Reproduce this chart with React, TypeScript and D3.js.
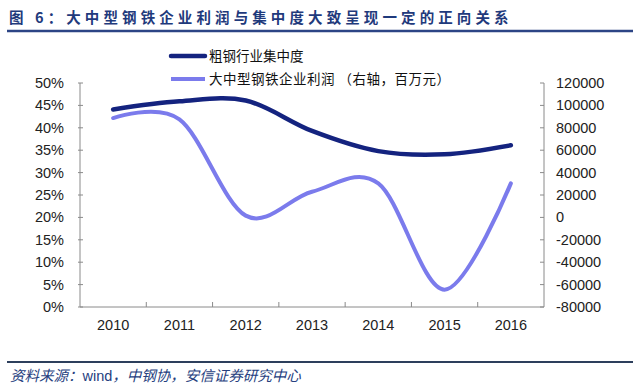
import * as d3 from "d3";

// ---------------------------------------------------------------------------
// Data
// ---------------------------------------------------------------------------

const YEARS = ["2010", "2011", "2012", "2013", "2014", "2015", "2016"];
// 粗钢行业集中度 (%)
const CONCENTRATION = [44.1, 45.9, 46.1, 39.3, 34.8, 34.1, 36.1];
// 大中型钢铁企业利润 (百万元, right axis)
const PROFIT = [88700, 87500, 1580, 22890, 30400, -64500, 30380];

const LEFT_TICKS = [0, 5, 10, 15, 20, 25, 30, 35, 40, 45, 50];
const RIGHT_TICKS = [-80000, -60000, -40000, -20000, 0, 20000, 40000, 60000, 80000, 100000, 120000];

const TITLE = "图 6：大中型钢铁企业利润与集中度大致呈现一定的正向关系";
const SOURCE_A = "资料来源：";
const SOURCE_B = "wind";
const SOURCE_C = "，中钢协，安信证券研究中心";
const LEGEND = ["粗钢行业集中度", "大中型钢铁企业利润 （右轴，百万元）"];

const DARK = "#14237f";
const LIGHT = "#7b7bec";
const AXIS = "#8a8a8a";
const NUM_FONT = "'Liberation Sans', Arial, sans-serif";
const CJK_FONT = "'Noto Sans CJK SC', 'Noto Sans', sans-serif";

// ---------------------------------------------------------------------------
// Component
// ---------------------------------------------------------------------------

export default function App() {
  const width = 640;
  const height = 392;
  const left = 80;
  const right = 544;
  const top = 83;
  const bottom = 307;

  const x = d3.scalePoint<string>().domain(YEARS).range([left, right]).padding(0.5);
  const step = x.step();
  const yL = d3.scaleLinear().domain([0, 50]).range([bottom, top]);
  const yR = d3.scaleLinear().domain([-80000, 120000]).range([bottom, top]);

  const line = d3
    .line<number>()
    .x((_d, i) => x(YEARS[i])!)
    .curve(d3.curveCardinal.tension(0));

  const concPath = line.y((d) => yL(d))(CONCENTRATION) ?? "";
  const profPath = line.y((d) => yR(d))(PROFIT) ?? "";

  // category boundaries for x ticks
  const bounds = d3.range(1, YEARS.length).map((i) => left + i * step);

  return (
    <svg
      width={width}
      height={height}
      style={{ position: "absolute", left: 0, top: 0, background: "#fff" }}
    >
      {/* ---- Title ---- */}
      <text
        x={9}
        y={23}
        fill="#1f3a7c"
        fontSize={14.5}
        fontWeight="bold"
        letterSpacing={4.1}
        fontFamily={CJK_FONT}
      >
        {TITLE}
      </text>
      <line x1={7} x2={633} y1={31} y2={31} stroke="#2c4585" strokeWidth={2.5} />

      {/* ---- Axes ---- */}
      <g stroke={AXIS} strokeWidth={1} fill="none">
        <line x1={left} x2={left} y1={top} y2={bottom} />
        <line x1={right} x2={right} y1={top} y2={bottom} />
        <line x1={left} x2={right} y1={bottom} y2={bottom} />
        {LEFT_TICKS.map((t) => (
          <line key={"l" + t} x1={left - 2} x2={left + 3} y1={yL(t)} y2={yL(t)} />
        ))}
        {RIGHT_TICKS.map((t) => (
          <line key={"r" + t} x1={right - 4} x2={right} y1={yR(t)} y2={yR(t)} />
        ))}
        {bounds.map((b) => (
          <line key={"b" + b} x1={b} x2={b} y1={bottom - 5} y2={bottom} />
        ))}
      </g>

      <g fontFamily={NUM_FONT} fontSize={14.5} fill="#222">
        {LEFT_TICKS.map((t) => (
          <text key={"lt" + t} x={64} y={yL(t)} dy="0.35em" textAnchor="end">
            {t + "%"}
          </text>
        ))}
        {RIGHT_TICKS.map((t) => (
          <text key={"rt" + t} x={556} y={yR(t)} dy="0.35em" textAnchor="start">
            {String(t)}
          </text>
        ))}
        {YEARS.map((yr) => (
          <text key={yr} x={x(yr)} y={330} textAnchor="middle">
            {yr}
          </text>
        ))}
      </g>

      {/* ---- Lines ---- */}
      <path d={profPath} fill="none" stroke={LIGHT} strokeWidth={4} strokeLinecap="round" />
      <path d={concPath} fill="none" stroke={DARK} strokeWidth={4.5} strokeLinecap="round" />

      {/* ---- Legend ---- */}
      <g fontFamily={CJK_FONT} fontSize={13.5} fill="#111">
        <line x1={171} x2={205} y1={56} y2={56} stroke={DARK} strokeWidth={4.5} strokeLinecap="round" />
        <text x={209} y={56} dy="0.36em">
          {LEGEND[0]}
        </text>
        <line x1={171} x2={205} y1={79} y2={79} stroke={LIGHT} strokeWidth={4} />
        <text x={209} y={79} dy="0.36em" letterSpacing={0.5}>
          {LEGEND[1]}
        </text>
      </g>

      {/* ---- Source ---- */}
      <line x1={7} x2={633} y1={362} y2={362} stroke="#2d3f5c" strokeWidth={2} />
      <text x={10} y={381} fill="#26407e" fontSize={14.5} fontFamily={CJK_FONT}>
        <tspan fontStyle="italic">{SOURCE_A}</tspan>
        <tspan fontFamily={NUM_FONT}>{SOURCE_B}</tspan>
        <tspan fontStyle="italic">{SOURCE_C}</tspan>
      </text>
    </svg>
  );
}
